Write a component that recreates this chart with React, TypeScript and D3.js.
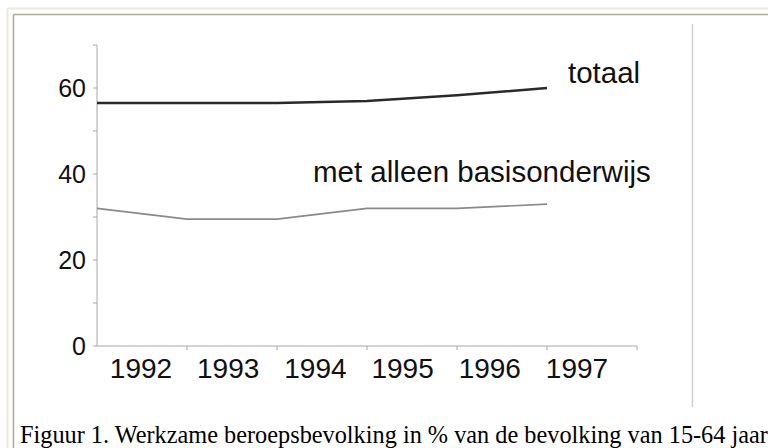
import React from "react";
import { scaleBand, scalePoint, scaleLinear, line } from "d3";

// data
const years = ["1992", "1993", "1994", "1995", "1996", "1997"];
const totaal = [56.5, 56.5, 56.5, 57, 58.3, 60];
const basisonderwijs = [32, 29.5, 29.5, 32, 32, 33];
const yTicks = [0, 20, 40, 60];
const yMinorTicks = [10, 30, 50, 70];

const W = 768;
const H = 448;
const margin = { left: 97, right: 131, top: 45, bottom: 102 };

export default function App() {
  const x = scaleBand<string>()
    .domain(years)
    .range([margin.left, W - margin.right]);
  // the category labels in the original sit a little left of the band centres
  const xLabel = scalePoint<string>()
    .domain(years)
    .range([141, 577]);
  const y = scaleLinear()
    .domain([0, 70])
    .range([H - margin.bottom, margin.top]);

  // the lines sit on the left edge of each band, like the original
  const lineGen = line<number>()
    .x((_, i) => x(years[i])!)
    .y((d) => y(d));

  const y0 = y(0);
  const axisColor = "#a8a8a8";
  const sans = "'Liberation Sans', Arial, sans-serif";

  return (
    <svg
      width={W}
      height={H}
      style={{ position: "absolute", left: 0, top: 0, background: "#fff" }}
    >
      {/* window frame */}
      <line x1={7.5} y1={8.5} x2={W} y2={8.5} stroke="#ece9d8" strokeWidth={2} />
      <line x1={7.5} y1={8.5} x2={7.5} y2={H} stroke="#ece9d8" strokeWidth={2} />
      <line x1={13.5} y1={14.5} x2={W} y2={14.5} stroke="#aca899" strokeWidth={1.5} />
      <line x1={13.5} y1={14.5} x2={13.5} y2={H} stroke="#aca899" strokeWidth={1.5} />
      <line x1={692.5} y1={24} x2={692.5} y2={407} stroke="#d0d0d0" strokeWidth={1.5} />

      {/* y axis */}
      <line x1={margin.left} y1={y(70)} x2={margin.left} y2={y0} stroke={axisColor} />
      {[...yTicks, ...yMinorTicks].map((t) => (
        <line
          key={t}
          x1={margin.left - 4}
          x2={margin.left}
          y1={y(t)}
          y2={y(t)}
          stroke={axisColor}
        />
      ))}
      {yTicks.map((t) => (
        <text
          key={t}
          x={86}
          y={y(t)}
          dy="0.36em"
          textAnchor="end"
          fontFamily={sans}
          fontSize={25}
          fill="#111"
        >
          {t}
        </text>
      ))}

      {/* x axis */}
      <line x1={margin.left} y1={y0} x2={W - margin.right} y2={y0} stroke={axisColor} />
      {years.map((yr) => (
        <line
          key={yr}
          x1={x(yr)! + x.bandwidth()}
          x2={x(yr)! + x.bandwidth()}
          y1={y0}
          y2={y0 + 4}
          stroke={axisColor}
        />
      ))}
      {years.map((yr) => (
        <text
          key={yr}
          x={xLabel(yr)}
          y={378}
          textAnchor="middle"
          fontFamily={sans}
          fontSize={28}
          fill="#111"
        >
          {yr}
        </text>
      ))}

      {/* series */}
      <path d={lineGen(totaal)!} fill="none" stroke="#2a2a2a" strokeWidth={2.5} />
      <path d={lineGen(basisonderwijs)!} fill="none" stroke="#8a8a8a" strokeWidth={1.6} />

      <text x={568} y={83} fontFamily={sans} fontSize={29.5} fill="#111">
        totaal
      </text>
      <text x={313} y={182} fontFamily={sans} fontSize={29.5} fill="#111">
        met alleen basisonderwijs
      </text>

      {/* caption */}
      <text
        x={20}
        y={443}
        fontFamily="'Liberation Serif', 'Times New Roman', serif"
        fontSize={24.3}
        fill="#000"
      >
        Figuur 1. Werkzame beroepsbevolking in % van de bevolking van 15-64 jaar
      </text>
    </svg>
  );
}
